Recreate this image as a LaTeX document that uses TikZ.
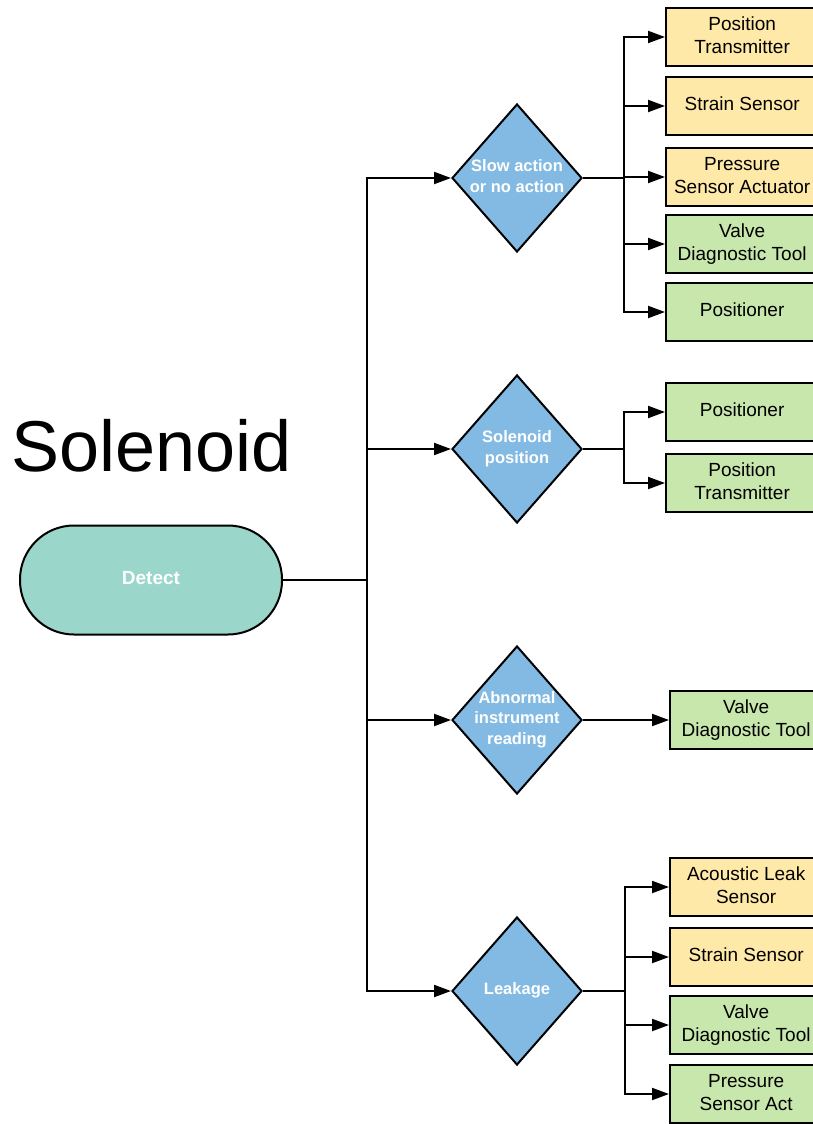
\documentclass[tikz,border=0pt]{standalone}
\usepackage{fontspec}
\setmainfont{Liberation Sans}
\usetikzlibrary{shapes.geometric,arrows.meta}

\definecolor{sensorYellow}{HTML}{FFE9A8}
\definecolor{toolGreen}{HTML}{C7E7AD}
\definecolor{decisionBlue}{HTML}{83BAE3}
\definecolor{startTeal}{HTML}{9BD6CB}

\tikzset{
  conn/.style={line width=2pt, draw=black},
  arr/.style={conn, -{Triangle[length=17pt,width=12pt]}},
  outbox/.style={draw=black, line width=2.3pt, minimum width=152pt,
    minimum height=58pt, inner sep=0pt, align=center, text depth=4pt,
    font=\fontsize{19}{23}\selectfont, anchor=west},
  yel/.style={outbox, fill=sensorYellow},
  grn/.style={outbox, fill=toolGreen},
  dec/.style={diamond, draw=black, line width=2pt, fill=decisionBlue,
    minimum width=130pt, minimum height=148pt, inner sep=0pt},
  declabel/.style={text=white, align=center, text depth=4pt,
    font=\bfseries\fontsize{16.5}{20.5}\selectfont},
  startnode/.style={draw=black, line width=2pt, fill=startTeal,
    rounded corners=54pt, minimum width=262pt, minimum height=109pt,
    text=white, text depth=4pt, font=\bfseries\fontsize{19}{23}\selectfont},
}

\begin{document}
\begin{tikzpicture}[x=1pt,y=-1pt]
\useasboundingbox (0,0) rectangle (813,1124);
\clip (0,0) rectangle (813,1124);

% title
\node[anchor=base west, inner sep=0pt, font=\fontsize{72}{80}\selectfont]
  (title) at (11,471) {Solenoid};

% start
\node[startnode] (detect) at (151,580) {Detect};

% decisions
\node[dec] (d1) at (517,178) {};
\node[declabel] (d1t) at (d1) {Slow action\\or no action};
\node[dec] (d2) at (517,449) {};
\node[declabel] (d2t) at (d2) {Solenoid\\position};
\node[dec] (d3) at (517,720) {};
\node[declabel] (d3t) at (d3) {Abnormal\\instrument\\reading};
\node[dec] (d4) at (517,991) {};
\node[declabel] (d4t) at (d4) {Leakage};

% outcomes: slow action
\node[yel] (a1) at (665,37)  {Position\\Transmitter};
\node[yel] (a2) at (665,106) {Strain Sensor};
\node[yel] (a3) at (665,177) {Pressure\\Sensor Actuator};
\node[grn] (a4) at (665,244) {Valve\\Diagnostic Tool};
\node[grn] (a5) at (665,312) {Positioner};

% outcomes: solenoid position
\node[grn] (b1) at (665,412) {Positioner};
\node[grn] (b2) at (665,483) {Position\\Transmitter};

% outcomes: abnormal reading
\node[grn] (c1) at (669,720) {Valve\\Diagnostic Tool};

% outcomes: leakage
\node[yel] (e1) at (669,887)  {Acoustic Leak\\Sensor};
\node[yel] (e2) at (669,957)  {Strain Sensor};
\node[grn] (e3) at (669,1025) {Valve\\Diagnostic Tool};
\node[grn] (e4) at (669,1094) {Pressure\\Sensor Act};

% trunk from start to decisions
\coordinate (trunk) at (367,580);
\draw[conn] (detect.east) -- (trunk);
\foreach \d in {d1,d2,d3,d4}
  \draw[arr] (trunk) |- (\d.west);

% branches
\coordinate (j1) at (624,178);
\draw[conn] (d1.east) -- (j1);
\foreach \b in {a1,a2,a3,a4,a5}
  \draw[arr] (j1) |- (\b.west);

\coordinate (j2) at (624,449);
\draw[conn] (d2.east) -- (j2);
\foreach \b in {b1,b2}
  \draw[arr] (j2) |- (\b.west);

\draw[arr] (d3.east) -- (c1.west);

\coordinate (j4) at (625,991);
\draw[conn] (d4.east) -- (j4);
\foreach \b in {e1,e2,e3,e4}
  \draw[arr] (j4) |- (\b.west);
\end{tikzpicture}
\end{document}
